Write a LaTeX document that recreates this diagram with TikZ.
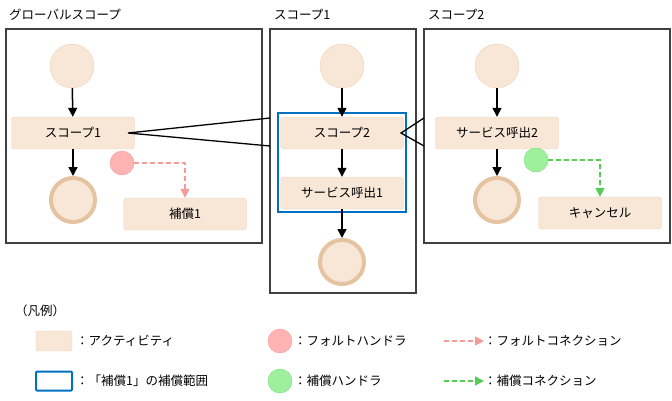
\documentclass[tikz,border=0pt]{standalone}
\usepackage{fontspec}
\setmainfont{Noto Sans CJK JP}
\usetikzlibrary{arrows.meta}
\definecolor{actf}{HTML}{F8E7D7}
\definecolor{actd}{HTML}{EFD3B9}
\definecolor{endd}{HTML}{E5C3A0}
\definecolor{redf}{HTML}{FFB3B3}
\definecolor{redd}{HTML}{F39A9A}
\definecolor{grnf}{HTML}{9EF09E}
\definecolor{grnd}{HTML}{77DD77}
\definecolor{redl}{HTML}{F79A9A}
\definecolor{grnl}{HTML}{55CC55}
\definecolor{blu}{HTML}{0070C0}
\begin{document}
\begin{tikzpicture}[x=1pt,y=-1pt,font=\fontsize{12.5}{14}\selectfont,
 act/.style={draw=actd,fill=actf,rounded corners=3,minimum width=123pt,minimum height=32pt,inner sep=0},
 startc/.style={circle,draw=actd,fill=actf,minimum size=44pt,inner sep=0},
 endc/.style={circle,draw=endd,fill=actf,line width=4pt,minimum size=44pt,inner sep=0},
 fault/.style={circle,draw=redd,fill=redf,minimum size=24pt,inner sep=0},
 comp/.style={circle,draw=grnd,fill=grnf,minimum size=24pt,inner sep=0},
 flow/.style={-{Triangle[length=9pt,width=9pt]},line width=1.5pt},
 fdash/.style={draw=redl,dash pattern=on 5pt off 3pt,line width=1.5pt,-{Triangle[length=9pt,width=9pt]}},
 cdash/.style={draw=grnl,dash pattern=on 5pt off 3pt,line width=1.5pt,-{Triangle[length=9pt,width=9pt]}},
 frame/.style={draw=black!75,line width=1.3pt},
 ttl/.style={anchor=west,inner sep=0}]
\useasboundingbox (0,0) rectangle (672,400);
% frames
\draw[frame] (6,29) rectangle (262,243);
\draw[frame] (270,29) rectangle (416,293);
\draw[frame] (424,29) rectangle (670,243);
\node[ttl] (t1) at (9,15) {グローバルスコープ};
\node[ttl] (t2) at (274,15) {スコープ1};
\node[ttl] (t3) at (428,15) {スコープ2};
% global
\node[startc] (gs) at (72,66) {};
\node[act] (gsc) at (73,133) {スコープ1};
\node[endc] (ge) at (73,200) {};
\node[fault] (gf) at (122,163) {};
\node[act] (gcp) at (185,214) {補償1};
\draw[flow] (gs) -- (gsc);
\draw[flow] (gsc) -- (ge);
\draw[fdash] (gf.east) -| (gcp.north);
% scope1
\node[startc] (s1s) at (342,66) {};
\node[act] (s1a) at (342,133) {スコープ2};
\node[act] (s1b) at (342,193) {サービス呼出1};
\node[endc] (s1e) at (342,262) {};
\draw[blu,line width=2pt] (278,113) rectangle (406,212);
\draw[flow] (s1s) -- (s1a);
\draw[flow] (s1a) -- (s1b);
\draw[flow] (s1b) -- (s1e);
% scope2
\node[startc] (s2s) at (497,66) {};
\node[act] (s2a) at (497,133) {サービス呼出2};
\node[endc] (s2e) at (497,200) {};
\node[comp] (s2c) at (536,160) {};
\node[act] (s2k) at (600,213) {キャンセル};
\draw[flow] (s2s) -- (s2a);
\draw[flow] (s2a) -- (s2e);
\draw[cdash] (s2c.east) -| (s2k.north);
% callouts
\coordinate (c1) at (128,133);
\coordinate (c1a) at (270,118);
\coordinate (c1b) at (270,146);
\draw[line width=1.3pt] (c1a) -- (c1) -- (c1b);
\coordinate (c2) at (401,133);
\coordinate (c2a) at (424,118);
\coordinate (c2b) at (424,146);
\draw[line width=1.3pt] (c2a) -- (c2) -- (c2b);
% legend
\node[ttl] (lg) at (15,311) {（凡例）};
\node[draw=actd,fill=actf,rounded corners=2,minimum width=36pt,minimum height=20pt,inner sep=0] (la) at (54,341) {};
\node[ttl] (lat) at (76,341) {：アクティビティ};
\node[draw=blu,line width=2pt,rounded corners=1,minimum width=36pt,minimum height=19pt,inner sep=0] (lb) at (54,381) {};
\node[ttl] (lbt) at (76,381) {：「補償1」の補償範囲};
\node[fault] (lf) at (280,341) {};
\node[ttl] (lft) at (294,341) {：フォルトハンドラ};
\node[comp] (lc) at (280,381) {};
\node[ttl] (lct) at (294,381) {：補償ハンドラ};
\coordinate (lfa) at (444,341);
\coordinate (lfb) at (484,341);
\draw[fdash] (lfa) -- (lfb);
\node[ttl] (lfct) at (484,341) {：フォルトコネクション};
\coordinate (lca) at (444,381);
\coordinate (lcb) at (484,381);
\draw[cdash] (lca) -- (lcb);
\node[ttl] (lcct) at (484,381) {：補償コネクション};
\end{tikzpicture}
\end{document}
